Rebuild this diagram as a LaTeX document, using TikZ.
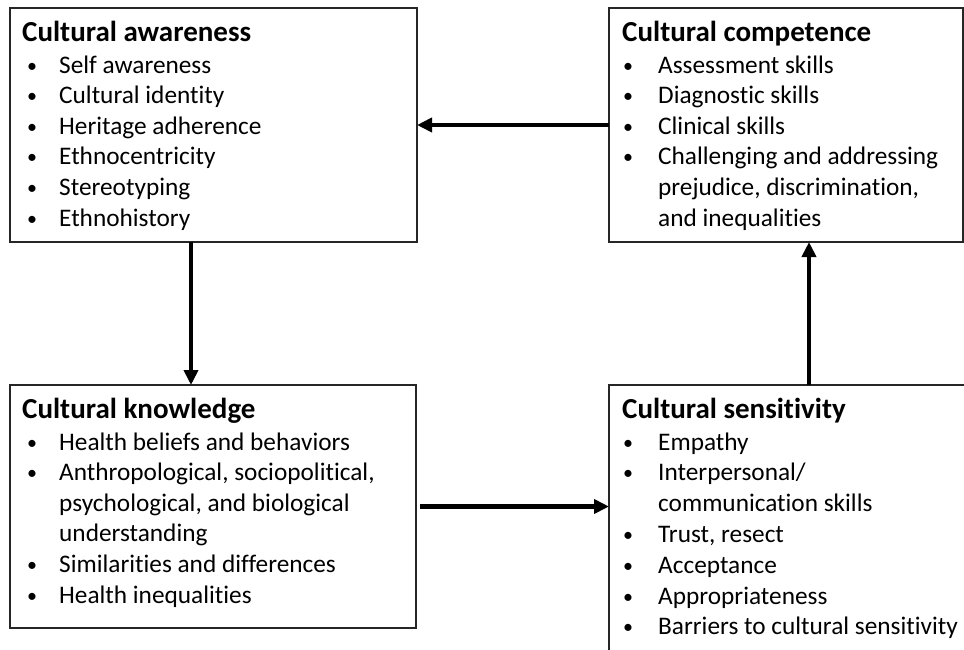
\documentclass[tikz,border=0pt]{standalone}
\usepackage{fontspec}
\setmainfont[Ligatures=NoCommon]{Carlito}
\usetikzlibrary{arrows.meta}

% a small round bullet, one bulleted line and one continuation line of a list
\newcommand\dotmark{\raisebox{1pt}{\fontsize{20}{20}\selectfont\textbullet}}
\newcommand\blt[2][32pt]{\hbox{\hbox to #1{\dotmark\hfil}#2}}
\newcommand\cnt[2][32pt]{\hbox{\hskip#1 #2}}

\begin{document}
\begin{tikzpicture}[x=1pt,y=-1pt,
  box/.style={draw=black!85, line width=1.4pt, rectangle, inner sep=0pt,
    outer sep=0pt, anchor=north west},
  head/.style={anchor=base west, inner sep=0pt,
    font=\fontsize{29}{35}\selectfont\bfseries},
  items/.style={anchor=base west, inner sep=0pt,
    font=\fontsize{25.3}{30.6}\selectfont},
  arr/.style={line width=4.5pt, -{Triangle[length=15pt,width=14pt]}}]

\clip (0,0) rectangle (964,649);
\fill[white] (0,0) rectangle (964,649);

% boxes
\node[box, minimum width=407pt, minimum height=234pt] (a) at (10,8) {};
\node[box, minimum width=354pt, minimum height=234pt] (c) at (609,8) {};
\node[box, minimum width=406pt, minimum height=243pt] (k) at (10,385) {};
\node[box, minimum width=400pt, minimum height=300pt] (s) at (609,385) {};

% Cultural awareness
\node[head] (at) at ([shift={(12pt,-33.5pt)}]a.north west) {Cultural awareness};
\node[items] (al) at ([shift={(17pt,-65pt)}]a.north west)
  {\vtop{\baselineskip=30.6pt
    \blt{Self awareness}
    \blt{Cultural identity}
    \blt{Heritage adherence}
    \blt{Ethnocentricity}
    \blt{Stereotyping}
    \blt{Ethnohistory}}};

% Cultural competence
\node[head] (ct) at ([shift={(13pt,-33.5pt)}]c.north west) {Cultural competence};
\node[items] (cl) at ([shift={(14pt,-65pt)}]c.north west)
  {\vtop{\baselineskip=30.6pt
    \blt[35pt]{Assessment skills}
    \blt[35pt]{Diagnostic skills}
    \blt[35pt]{Clinical skills}
    \blt[35pt]{Challenging and addressing}
    \cnt[35pt]{prejudice, discrimination,}
    \cnt[35pt]{and inequalities}}};

% Cultural knowledge
\node[head] (kt) at ([shift={(12pt,-33.5pt)}]k.north west) {Cultural knowledge};
\node[items] (kl) at ([shift={(17pt,-65pt)}]k.north west)
  {\vtop{\baselineskip=30.6pt
    \blt{Health beliefs and behaviors}
    \blt{Anthropological, sociopolitical,}
    \cnt{psychological, and biological}
    \cnt{understanding}
    \blt{Similarities and differences}
    \blt{Health inequalities}}};

% Cultural sensitivity
\node[head] (st) at ([shift={(13pt,-33.5pt)}]s.north west) {Cultural sensitivity};
\node[items] (sl) at ([shift={(14pt,-65pt)}]s.north west)
  {\vtop{\baselineskip=30.8pt
    \blt[35pt]{Empathy}
    \blt[35pt]{Interpersonal/}
    \cnt[35pt]{communication skills}
    \blt[35pt]{Trust, resect}
    \blt[35pt]{Acceptance}
    \blt[35pt]{Appropriateness}
    \blt[35pt]{Barriers to cultural sensitivity}}};

% cycle of arrows
\draw[arr] ([xshift=181pt]a.south west) -- ([xshift=181pt]k.north west);
\draw[arr] ([xshift=4pt]k.east) -- (k.east -| s.west);
\draw[arr] ([xshift=200pt]s.north west) -- ([xshift=200pt]c.south west);
\draw[arr] (c.west) -- (a.east);
\end{tikzpicture}
\end{document}
